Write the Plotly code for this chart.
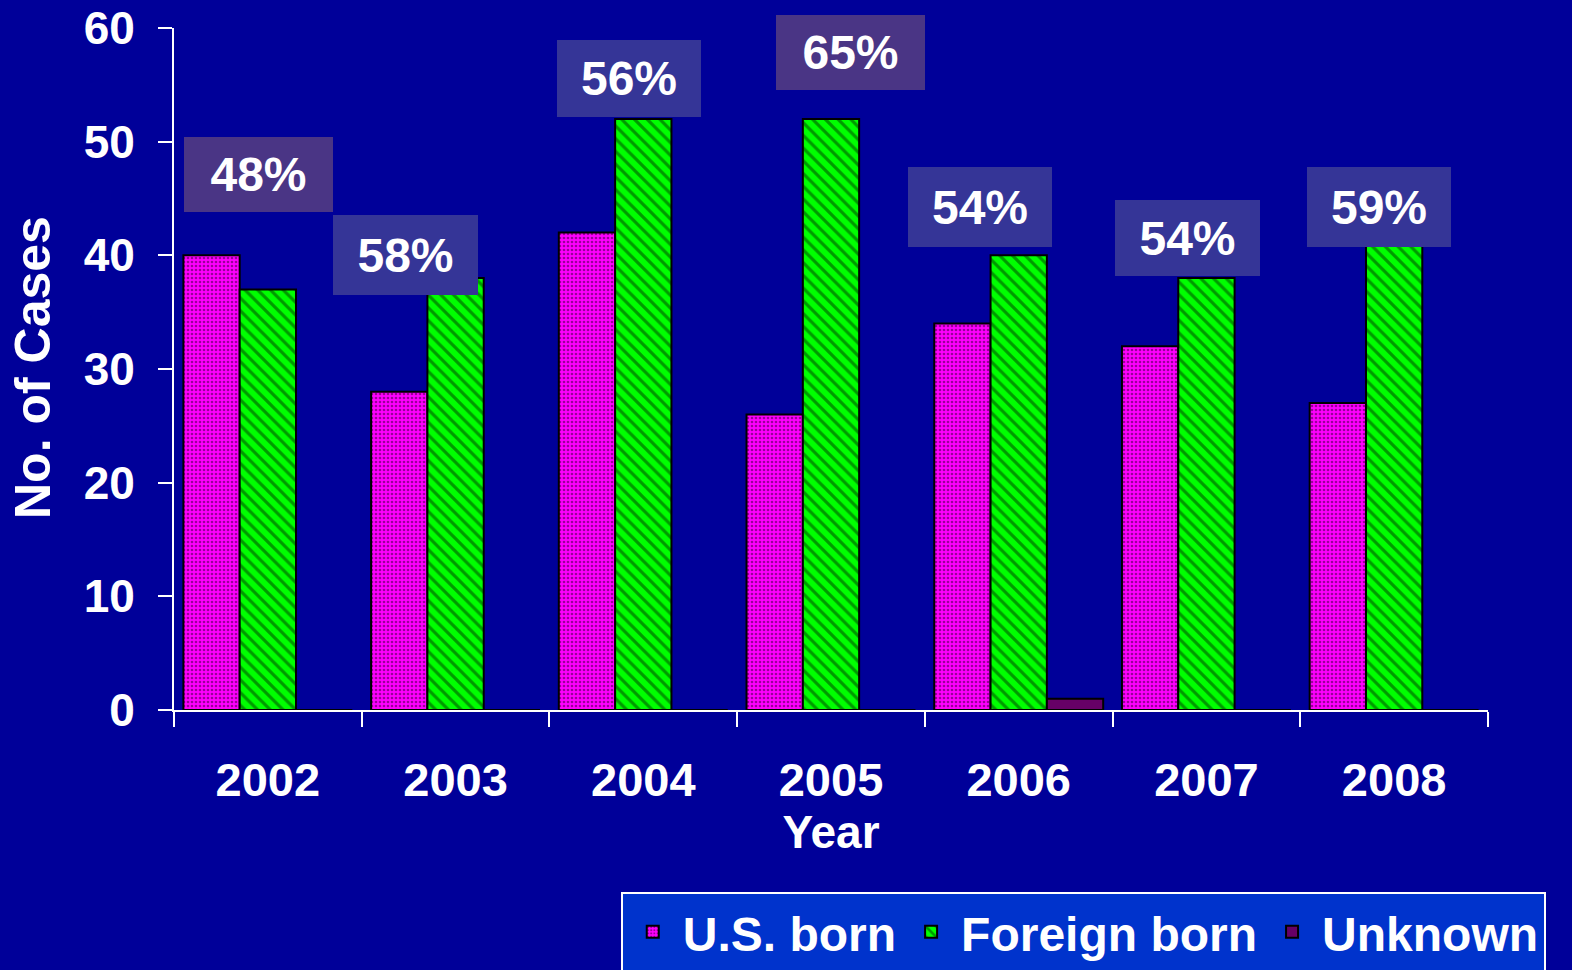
import plotly.graph_objects as go

years = ["2002", "2003", "2004", "2005", "2006", "2007", "2008"]
us_born = [40, 28, 42, 26, 34, 32, 27]
foreign_born = [37, 38, 52, 52, 40, 38, 41]
unknown = [0, 0, 0, 0, 1, 0, 0]
pct_labels = ["48%", "58%", "56%", "65%", "54%", "54%", "59%"]

# label box layout (x in category index units, y in data units)
box_x = [-0.05, 0.733, 1.924, 3.104, 3.794, 4.90, 5.92]
box_y = [47.1, 40.0, 55.55, 57.84, 44.25, 41.52, 44.25]
box_w = [149, 145, 144, 149, 144, 145, 144]
box_h = [75, 80, 77, 75, 80, 76, 80]
box_c = ["#4a3585", "#353597", "#353597", "#4a3585", "#353597", "#353597", "#353597"]

FONT = "Arial, Liberation Sans, sans-serif"
BG = "#000099"

fig = go.Figure()
fig.add_trace(go.Bar(
    x=years, y=us_born, name="U.S. born",
    marker=dict(color="#ff00ff", line=dict(color="black", width=2),
                pattern=dict(shape=".", fgcolor="#330033", bgcolor="#ff00ff",
                             size=4, solidity=0.35)),
))
fig.add_trace(go.Bar(
    x=years, y=foreign_born, name="Foreign born",
    marker=dict(color="#00ff00", line=dict(color="black", width=2),
                pattern=dict(shape="\\", fgcolor="#003300", bgcolor="#00ff00",
                             size=9, solidity=0.35)),
))
fig.add_trace(go.Bar(
    x=years, y=unknown, name="Unknown",
    marker=dict(color="#660066", line=dict(color="black", width=2)),
))

for t, x, y, w, h, c in zip(pct_labels, box_x, box_y, box_w, box_h, box_c):
    fig.add_annotation(x=x, y=y, xref="x", yref="y", text=t, showarrow=False,
                       width=w, height=h, bgcolor=c, borderpad=0, borderwidth=0,
                       align="center", valign="middle",
                       font=dict(family=FONT, size=48, color="white", weight="bold"))

# y-axis title
fig.add_annotation(x=-0.1073, y=0.5015, xref="paper", yref="paper",
                   text="No. of Cases", textangle=-90, showarrow=False,
                   xanchor="center", yanchor="middle",
                   font=dict(family=FONT, size=50, color="white", weight="bold"))

fig.update_layout(
    width=1572, height=970,
    paper_bgcolor=BG, plot_bgcolor=BG,
    margin=dict(l=174, r=84, t=28, b=260, autoexpand=False),
    barmode="group", bargap=0.1, bargroupgap=0,
    font=dict(family=FONT, color="white"),
    showlegend=True,
    legend=dict(orientation="h", x=0.34, y=-0.267, xanchor="left", yanchor="top",
                bgcolor="#0033cc", bordercolor="white", borderwidth=2,
                font=dict(family=FONT, size=48, color="white", weight="bold"),
                itemwidth=50, tracegroupgap=0),
)
fig.update_xaxes(
    type="category", tickson="boundaries", ticks="outside", ticklen=15, tickwidth=2,
    tickcolor="white", showline=True, linecolor="white", linewidth=2,
    showgrid=False, zeroline=False, automargin=False,
    tickfont=dict(family=FONT, size=47, color="white", weight="bold"),
    ticklabelstandoff=28,
    title=dict(text="Year", font=dict(family=FONT, size=46, color="white", weight="bold"),
               standoff=6),
)
fig.update_yaxes(
    range=[0, 60], dtick=10, ticks="outside", ticklen=14, tickwidth=2,
    tickcolor="white", showline=True, linecolor="white", linewidth=2,
    showgrid=False, zeroline=False, automargin=False,
    tickfont=dict(family=FONT, size=46, color="white", weight="bold"),
    ticklabelstandoff=14,
)

fig.write_html("out.html", config={"displayModeBar": False},
               post_script="document.body.style.margin='0';document.body.style.background='#000099';")
